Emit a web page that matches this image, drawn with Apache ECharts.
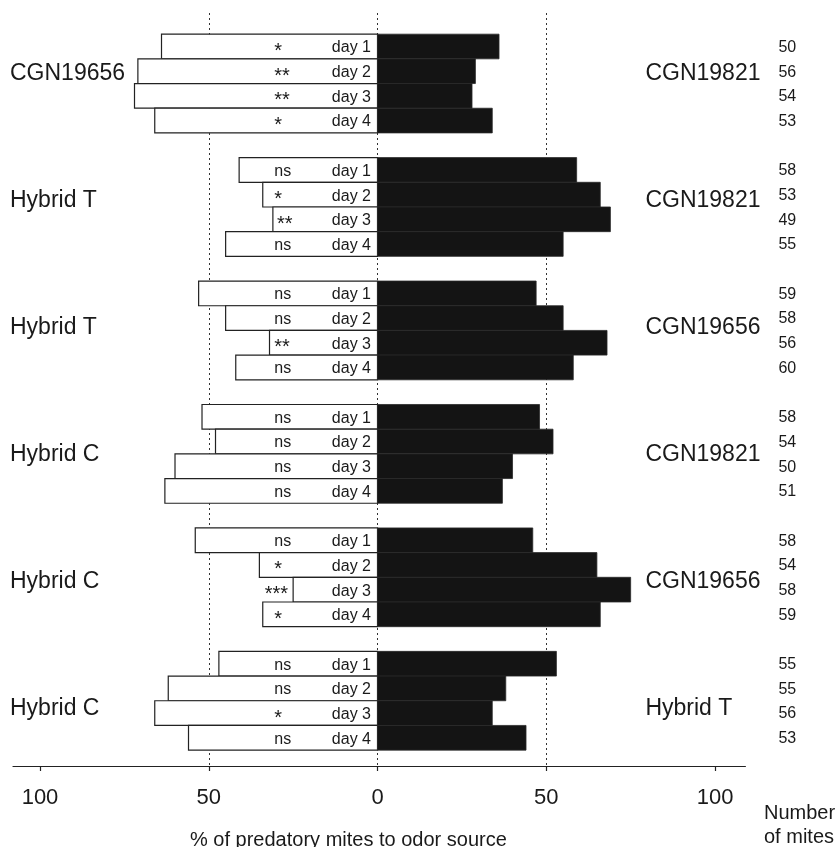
<!DOCTYPE html>
<html>
<head>
<meta charset="utf-8">
<script src="https://cdn.jsdelivr.net/npm/echarts@6/dist/echarts.min.js"></script>
<style>
html,body{margin:0;padding:0;background:#ffffff;}
#chart{width:836px;height:847px;}
</style>
</head>
<body>
<div id="chart"></div>
<script>
// ---------- data ----------
const leftLabels  = ['CGN19656', 'Hybrid T', 'Hybrid T', 'Hybrid C', 'Hybrid C', 'Hybrid C'];
const rightLabels = ['CGN19821', 'CGN19821', 'CGN19656', 'CGN19821', 'CGN19656', 'Hybrid T'];
const days = ['day 1', 'day 2', 'day 3', 'day 4'];

// % of predatory mites choosing the left (white) odor source
const leftPct = [
  [64, 71, 72, 66],
  [41, 34, 31, 45],
  [53, 45, 32, 42],
  [52, 48, 60, 63],
  [54, 35, 25, 34],
  [47, 62, 66, 56]
];
// % choosing the right (black) odor source
const rightPct = [
  [36, 29, 28, 34],
  [59, 66, 69, 55],
  [47, 55, 68, 58],
  [48, 52, 40, 37],
  [46, 65, 75, 66],
  [53, 38, 34, 44]
];
const signif = [
  ['*', '**', '**', '*'],
  ['ns', '*', '**', 'ns'],
  ['ns', 'ns', '**', 'ns'],
  ['ns', 'ns', 'ns', 'ns'],
  ['ns', '*', '***', '*'],
  ['ns', 'ns', '*', 'ns']
];
const nMites = [
  [50, 56, 54, 53],
  [58, 53, 49, 55],
  [59, 58, 56, 60],
  [58, 54, 50, 51],
  [58, 54, 58, 59],
  [55, 55, 56, 53]
];
const tickValues = [-100, -50, 0, 50, 100];
const refLines = [-50, 0, 50];
const axisTitle = '% of predatory mites to odor source';
const countTitle = 'Number\nof mites';

// ---------- layout / style ----------
const FONT = '"Liberation Sans", Arial, Helvetica, sans-serif';
const INK = '#1a1a1a';
const X_MIN = -108, X_MAX = 109;
const Y_MIN = -0.857, Y_MAX = 29.643;
const GROUP_STEP = 5;          // 4 bars + one empty slot
const LABEL_START = 1.593, LABEL_STEP = 5.148;
const SIG_X = -30.6;

const barData = [];
leftPct.forEach((row, g) => row.forEach((v, d) => {
  barData.push([g * GROUP_STEP + d, -v, rightPct[g][d], g, d]);
}));
const labelData = leftLabels.map((_, g) => [LABEL_START + g * LABEL_STEP, g]);

function txt(x, y, text, align, size, extra) {
  return Object.assign({
    type: 'text', x: x, y: y,
    style: {
      text: text, fill: INK, fontSize: size, fontFamily: FONT,
      textAlign: align, align: align,
      textVerticalAlign: 'middle', verticalAlign: 'middle'
    }
  }, extra || {});
}

function renderBar(params, api) {
  const slot = api.value(0), L = api.value(1), R = api.value(2);
  const g = api.value(3), d = api.value(4);
  const pTop = api.coord([0, slot]);
  const pBot = api.coord([0, slot + 1]);
  const xl = api.coord([L, slot])[0];
  const xr = api.coord([R, slot])[0];
  const x0 = pTop[0];
  const yTop = pTop[1];
  const h = pBot[1] - pTop[1];
  const yc = yTop + h / 2;
  const xEnd = api.coord([X_MAX, slot])[0];

  const sig = signif[g][d];
  const isStar = sig.indexOf('*') >= 0;
  let sx, salign;
  if (L <= -30) {
    sx = Math.max(api.coord([SIG_X, slot])[0], xl + 4);
    salign = 'left';
  } else {
    sx = xl - 5;
    salign = 'right';
  }
  const sdy = isStar ? 5 : 1.5;
  const ssize = isStar ? 20 : 16;

  return {
    type: 'group',
    children: [
      { type: 'rect', shape: { x: xl, y: yTop, width: x0 - xl, height: h },
        style: { fill: '#ffffff', stroke: '#222222', lineWidth: 1.2 } },
      { type: 'rect', shape: { x: x0, y: yTop, width: xr - x0, height: h },
        style: { fill: '#141414', stroke: '#2a2a2a', lineWidth: 0.8 } },
      txt(x0 - 6.5, yc + 1.5, days[d], 'right', 16),
      txt(sx, yc + sdy, sig, salign, ssize),
      txt(xEnd + 33, yc + 1, String(nMites[g][d]), 'left', 16)
    ]
  };
}

function renderLabel(params, api) {
  const pos = api.value(0), g = api.value(1);
  const y = api.coord([0, pos])[1];
  const xLeft = api.coord([X_MIN, pos])[0] - 3;
  const xRight = api.coord([X_MAX, pos])[0] - 100;
  return {
    type: 'group',
    children: [
      txt(xLeft, y, leftLabels[g], 'left', 23),
      txt(xRight, y, rightLabels[g], 'left', 23)
    ]
  };
}

const chart = echarts.init(document.getElementById('chart'), null, { renderer: 'canvas' });
chart.setOption({
  animation: false,
  backgroundColor: '#ffffff',
  title: [
    { text: axisTitle, left: 190, top: 830, padding: 0,
      textStyle: { fontSize: 20, fontWeight: 'normal', fontFamily: FONT, color: INK } },
    { text: countTitle, left: 764, top: 801, padding: 0,
      textStyle: { fontSize: 20, fontWeight: 'normal', fontFamily: FONT, color: INK, lineHeight: 24 } }
  ],
  grid: { left: 13, top: 13, width: 732.4, height: 753, containLabel: false },
  xAxis: {
    type: 'value', min: X_MIN, max: X_MAX, position: 'bottom',
    splitLine: { show: false },
    axisLine: { show: true, onZero: false, lineStyle: { color: '#222222', width: 1.2 } },
    axisTick: { show: true, customValues: tickValues, length: 5, lineStyle: { color: '#222222', width: 1.2 } },
    axisLabel: { customValues: tickValues, formatter: v => String(Math.abs(v)),
      fontSize: 22, fontFamily: FONT, color: INK, margin: 21 }
  },
  yAxis: { type: 'value', inverse: true, min: Y_MIN, max: Y_MAX, show: false },
  series: [
    {
      type: 'custom', name: 'bars', z: 3, clip: false,
      renderItem: renderBar,
      encode: { x: [1, 2], y: 0 },
      data: barData,
      markLine: {
        silent: true, z: 1, symbol: 'none', animation: false,
        label: { show: false },
        lineStyle: { type: [2, 3], color: '#333333', width: 1 },
        emphasis: { disabled: true },
        data: refLines.map(v => ({ xAxis: v }))
      }
    },
    {
      type: 'custom', name: 'labels', z: 3, clip: false,
      renderItem: renderLabel,
      encode: { y: 0 },
      data: labelData
    }
  ]
});
</script>
</body>
</html>
